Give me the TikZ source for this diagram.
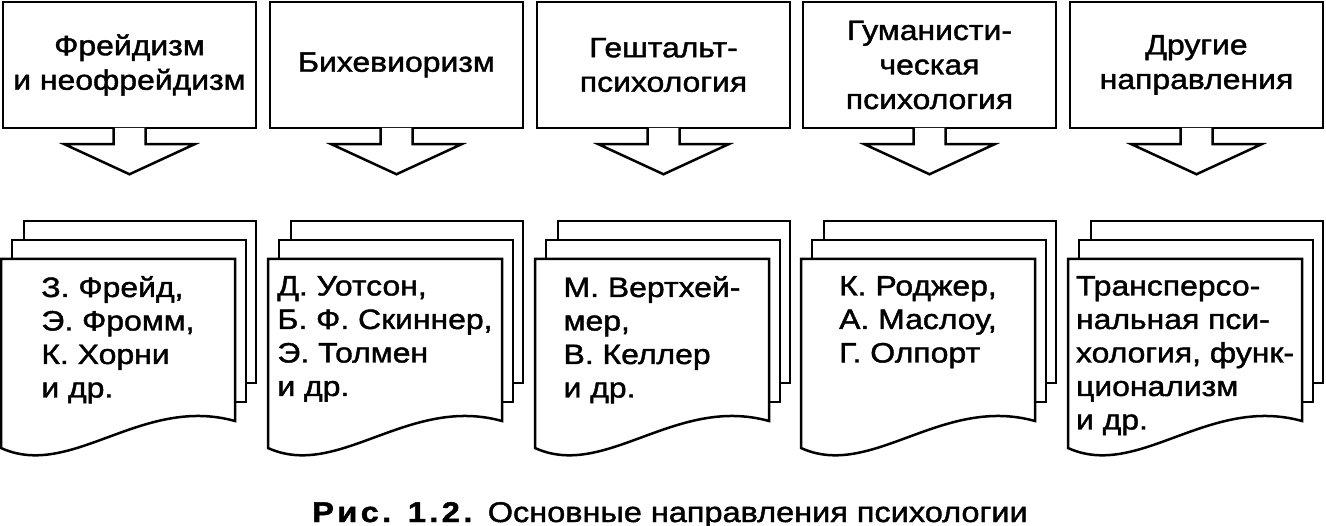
\documentclass[tikz,border=0pt]{standalone}
\usepackage{fontspec}
\setmainfont{Liberation Sans}[FakeStretch=1.14, FakeBold=1.5]
\usetikzlibrary{positioning}

\tikzset{
	dirbox/.style={draw, line width=2.5pt, minimum width=253pt, minimum height=126pt, align=center, font=\fontsize{28}{34.5}\selectfont},
	downarrow/.style={draw, fill=white, line width=2.5pt, line join=miter},
	backpage/.style={draw, fill=white, line width=2pt},
	frontpage/.style={draw, fill=white, line width=2.5pt},
	names/.style={align=left, anchor=north, inner sep=0pt, font=\fontsize{28}{33.5}\selectfont}
}

\begin{document}
\begin{tikzpicture}[x=1pt, y=-1pt]
			\useasboundingbox (0,0) rectangle (1326,526);
			\foreach \i/\x/\dirtext/\names in {
				1/3/{Фрейдизм\\и неофрейдизм}/{З. Фрейд,\\Э. Фромм,\\К. Хорни\\и др.},
				2/270/{Бихевиоризм}/{Д. Уотсон,\\Б. Ф. Скиннер,\\Э. Толмен\\и др.},
				3/537/{Гештальт-\\психология}/{М. Вертхей-\\мер,\\В. Келлер\\и др.},
				4/803/{Гуманисти-\\ческая\\психология}/{К. Роджер,\\А. Маслоу,\\Г. Олпорт},
				5/1070/{Другие\\направления}/{Трансперсо-\\нальная пси-\\хология, функ-\\ционализм\\и др.}}{
			\node[dirbox] (dir\i) at (\x+126.5,65) {\dirtext};
			\draw[downarrow] ([xshift=-16pt,yshift=1.25pt]dir\i.south) -- ++(0,16.25) -- ++(-49,0) -- ++(65,30) -- ++(65,-30) -- ++(-49,0) -- ++(0,-16.25);
			\draw[backpage] (\x+21,221) rectangle (\x+253,383);
			\draw[backpage] (\x+9,240) rectangle (\x+243,402);
			\draw[frontpage] (\x-2,448) -- (\x-2,259) -- (\x+232,259) -- (\x+232,421) .. controls (\x+138.4,395) and (\x+68.2,480) .. cycle;
			\node[names] (names\i) at (\x+115,276) {\names};
			}
			\node[anchor=base, font=\fontsize{28.5}{34}\selectfont] (caption) at (670,522) {\textbf{\addfontfeatures{LetterSpace=12}Рис. 1.2.} Основные направления психологии};
			\end{tikzpicture}
\end{document}
